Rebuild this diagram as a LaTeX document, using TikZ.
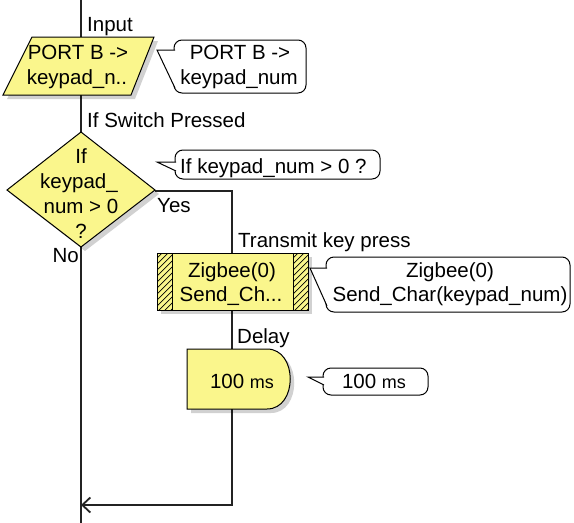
\documentclass[tikz,border=0pt]{standalone}
\usepackage{fontspec}
\setmainfont{Liberation Sans}
\usetikzlibrary{arrows.meta}
\definecolor{fcyellow}{RGB}{250,246,140}
\definecolor{fcline}{RGB}{35,35,35}
\begin{document}
\begin{tikzpicture}[x=1pt,y=-1pt,
  conn/.style={draw=fcline, line width=1.8pt},
  fshape/.style={draw=black, line width=1pt, fill=fcyellow},
  shadowfill/.style={fill=black, opacity=0.18},
  lbl/.style={anchor=base west, inner sep=0pt, font=\fontsize{20.5}{22}\selectfont},
  ln/.style={anchor=base, inner sep=0pt, font=\fontsize{20.5}{22}\selectfont},
  callout/.style={draw=black, line width=1pt, fill=white, rounded corners=8pt},
  wedge/.style={draw=black, line width=1pt},
  hatch/.style={draw=black, line width=0.7pt}]
\useasboundingbox[fill=white] (0,0) rectangle (574,523);

% connector coordinates
\coordinate (mtop) at (81,0);
\coordinate (mbot) at (81,523);
\coordinate (dE) at (155,191);
\coordinate (trN) at (232,253);
\coordinate (trS) at (232,310);
\coordinate (dlN) at (232,349);
\coordinate (dlS) at (232,409);
\coordinate (loop) at (81,505);

% connectors
\draw[conn] (mtop) -- (mbot);
\draw[conn] (dE) -| (trN);
\draw[conn] (trS) -- (dlN);
\draw[conn, -{Straight Barb[length=8pt,width=15pt]}] (dlS) |- (loop);

% labels on the flow
\node[lbl] (linput) at (87,31) {Input};
\node[lbl] (lsw) at (87,127) {If Switch Pressed};
\node[lbl] (lyes) at (157,212) {Yes};
\node[lbl, anchor=base east] (lno) at (79,262) {No};
\node[lbl] (ltx) at (238,247) {Transmit key press};
\node[lbl] (ldl) at (237,343) {Delay};

% ---- input parallelogram
\fill[shadowfill] (36,41) -- (158,41) -- (135,99) -- (7,99) -- cycle;
\path[fshape] (32,37) -- (154,37) -- (131,95) -- (3,95) -- cycle;
\node[ln] (inp1) at (78,59) {PORT B ->};
\node[ln] (inp2) at (77,84) {keypad\_n..};

% callout 1
\path[callout] (174,40) rectangle (306,93);
\fill[white] (157,50) -- (175.5,50) -- (175.5,88) -- cycle;
\draw[wedge] (175,50) -- (157,50) -- (175,88);
\node[ln] (c1a) at (240,59) {PORT B ->};
\node[ln] (c1b) at (239,84) {keypad\_num};

% ---- decision diamond
\fill[shadowfill] (85,136) -- (159,194) -- (85,251) -- (11,194) -- cycle;
\path[fshape] (81,132) -- (155,190) -- (81,247) -- (7,190) -- cycle;
\node[ln] (d1) at (81,163) {If};
\node[ln] (d2) at (79,188) {keypad\_};
\node[ln] (d3) at (81,213) {num > 0};
\node[ln] (d4) at (81,238) {?};

% callout 2
\path[callout] (175,150) rectangle (380,179);
\fill[white] (157,162) -- (176.5,162) -- (176.5,171) -- cycle;
\draw[wedge] (176,162) -- (157,162) -- (176,171);
\node[ln, anchor=base west] (c2) at (180,173) {If keypad\_num > 0 ?};

% ---- transmit (macro) box
\fill[shadowfill] (161,257) rectangle (312,314);
\path[fshape] (157,253) rectangle (308,310);
\begin{scope}
  \clip (157,253) rectangle (172,310);
  \foreach \i in {0,6,...,96} \draw[hatch] (150,253+\i) -- ++(30,-30);
\end{scope}
\begin{scope}
  \clip (293,253) rectangle (308,310);
  \foreach \i in {0,6,...,96} \draw[hatch] (286,253+\i) -- ++(30,-30);
\end{scope}
\draw[line width=1pt] (172,253) -- (172,310) (293,253) -- (293,310);
\draw[line width=1pt] (157,253) rectangle (308,310);
\node[ln] (t1) at (232,277) {Zigbee(0)};
\node[ln] (t2) at (231,301) {Send\_Ch...};

% callout 3
\path[callout] (326,257) rectangle (570,312);
\fill[white] (310,268) -- (327.5,268) -- (327.5,306) -- cycle;
\draw[wedge] (327,268) -- (310,268) -- (327,306);
\node[ln] (c3a) at (450,277) {Zigbee(0)};
\node[ln] (c3b) at (450,301) {Send\_Char(keypad\_num)};

% ---- delay shape
\fill[shadowfill] (191,353) -- (271,353) .. controls (302,353) and (302,413) .. (271,413) -- (191,413) -- cycle;
\path[fshape] (187,349) -- (267,349) .. controls (298,349) and (298,409) .. (267,409) -- (187,409) -- cycle;
\node[ln] (dl) at (242,388) {100 {\fontsize{18}{18}\selectfont ms}};

% callout 4
\path[callout] (323,368) rectangle (428,395);
\fill[white] (308,377) -- (324.5,377) -- (324.5,385) -- cycle;
\draw[wedge] (324,377) -- (308,377) -- (324,385);
\node[ln] (c4) at (374,388) {100 {\fontsize{18}{18}\selectfont ms}};
\end{tikzpicture}
\end{document}
